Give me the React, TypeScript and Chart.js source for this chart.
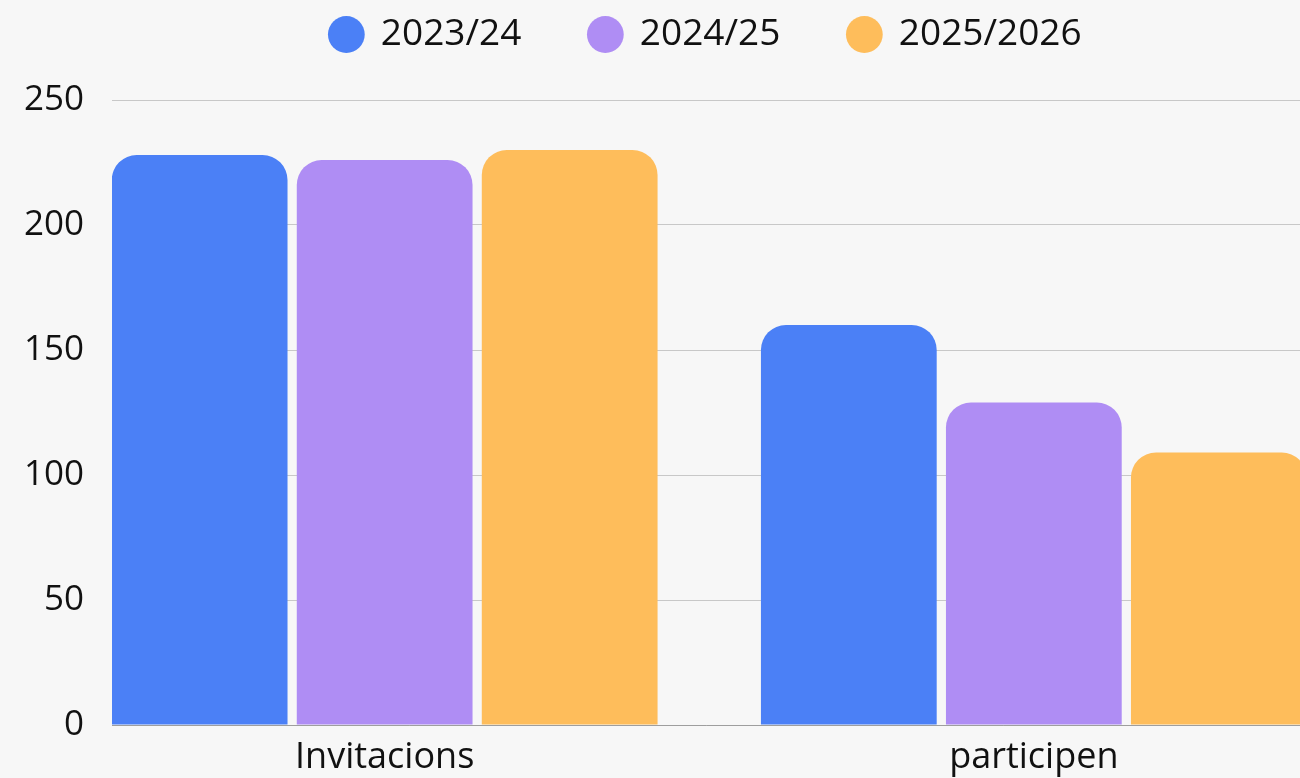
import React, { useEffect, useRef } from "react";
import { Chart, registerables } from "chart.js";

Chart.register(...registerables);

const categories = ["Invitacions", "participen"];
const seriesLabels = ["2023/24", "2024/25", "2025/2026"];
const values2324 = [228, 160];
const values2425 = [226, 129];
const values2526 = [230, 109];
const seriesColors = ["#4B80F6", "#AF8DF4", "#FEBD5B"];
const yTickStep = 50;
const yMax = 250;

const FONT = "'Open Sans', 'Noto Sans', sans-serif";
const BG = "#f7f7f7";
const LEGEND_EXTRA = 37;

const bgPlugin = {
  id: "bgFill",
  beforeDraw(chart: any) {
    const { ctx, width, height } = chart;
    ctx.save();
    ctx.fillStyle = BG;
    ctx.fillRect(0, 0, width, height);
    ctx.restore();
  },
};

// adds space between the legend row and the plot area
const legendGapPlugin = {
  id: "legendGap",
  beforeLayout(chart: any) {
    const lg = chart.legend;
    if (lg && !lg.__gapPatched) {
      const orig = lg.fit.bind(lg);
      lg.fit = function () {
        orig();
        this.height += LEGEND_EXTRA;
      };
      lg.__gapPatched = true;
    }
  },
};

export default function App() {
  const ref = useRef<HTMLCanvasElement | null>(null);

  useEffect(() => {
    document.body.style.margin = "0";
    document.body.style.background = BG;
    const canvas = ref.current;
    if (!canvas) return;
    const allSeries = [values2324, values2425, values2526];
    const chart = new Chart(canvas, {
      type: "bar",
      data: {
        datasets: allSeries.map((vals, si) => ({
          label: seriesLabels[si],
          data: vals.map((v, i) => ({ x: i, y: v })),
          backgroundColor: seriesColors[si],
          borderRadius: 25,
          borderSkipped: "start",
          categoryPercentage: 0.855,
          barPercentage: 0.95,
        })),
      },
      options: {
        responsive: false,
        animation: false,
        devicePixelRatio: 1,
        layout: { padding: { left: 0, right: 0, top: -52, bottom: -13 } },
        plugins: {
          legend: {
            position: "top",
            fullSize: false,
            labels: {
              usePointStyle: true,
              pointStyle: "circle",
              boxHeight: 26,
              boxWidth: 32,
              padding: 68,
              color: "#111",
              font: { family: FONT, size: 37 },
            },
          },
          tooltip: { enabled: false },
        },
        scales: {
          x: {
            type: "linear",
            min: -0.42,
            max: 1.41,
            offset: false,
            grid: { display: false, drawTicks: false },
            border: { display: true, color: "#9e9e9e", width: 1 },
            afterBuildTicks: (scale: any) => {
              scale.ticks = categories.map((_, i) => ({ value: i }));
            },
            ticks: {
              autoSkip: false,
              maxRotation: 0,
              padding: 15,
              color: "#111",
              font: { family: FONT, size: 36, lineHeight: 1 },
              callback: (v: any) => categories[v as number] ?? "",
            },
          },
          y: {
            min: 0,
            max: yMax,
            afterFit: (scale: any) => {
              scale.width = 112;
            },
            grid: { color: "#c8c8c8", drawTicks: false },
            border: { display: false },
            ticks: {
              stepSize: yTickStep,
              padding: 28,
              color: "#111",
              font: { family: FONT, size: 35 },
            },
          },
        },
      },
      plugins: [bgPlugin, legendGapPlugin],
    } as any);
    return () => chart.destroy();
  }, []);

  return (
    <div style={{ width: 1300, height: 778, background: BG }}>
      <canvas ref={ref} width={1300} height={778} style={{ display: "block" }} />
    </div>
  );
}
